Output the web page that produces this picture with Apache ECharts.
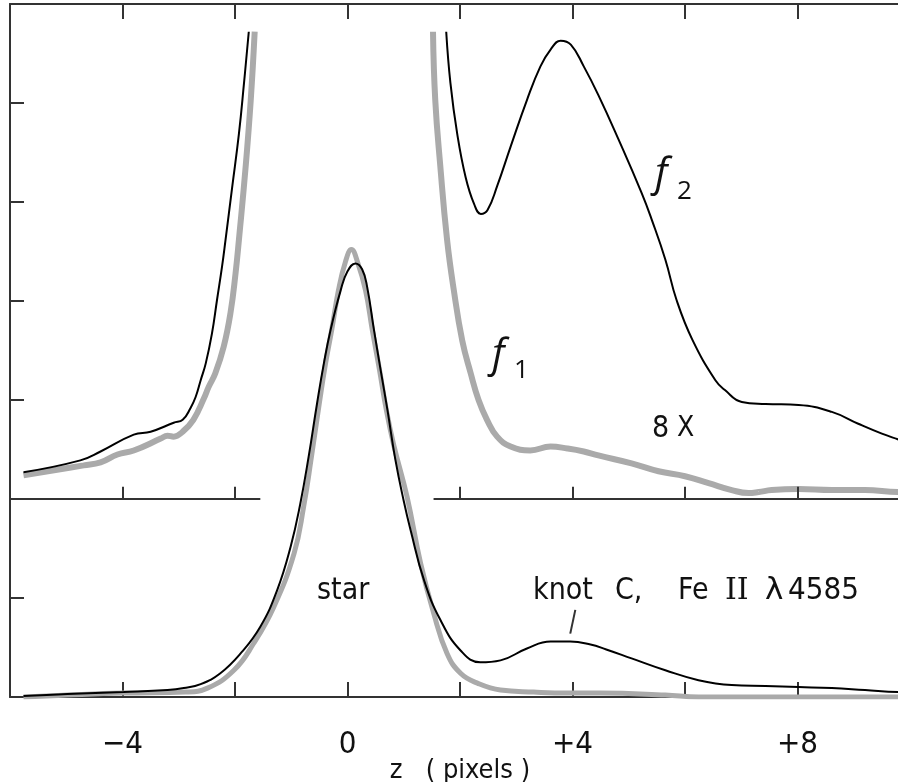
<!DOCTYPE html>
<html>
<head>
<meta charset="utf-8">
<title>star / knot C profiles</title>
<script src="https://cdn.jsdelivr.net/npm/echarts@6.0.0/dist/echarts.min.js"></script>
<style>
  html, body { margin: 0; padding: 0; background: #fff; }
  #main { width: 898px; height: 782px; }
</style>
</head>
<body>
<div id="main"></div>
<script>
// x axis: z in pixels, y axis: arbitrary units (upper panel = 8x, offset by 2)
var xTickLabels = [-4, 0, 4, 8];

// lower panel, black: star + knot C (observed)
var starKnot = [[-5.76, 0.01], [-4.98, 0.03], [-3.98, 0.05], [-3.2, 0.07], [-2.91, 0.09], [-2.61, 0.13],
    [-2.26, 0.24], [-1.90, 0.44], [-1.55, 0.71], [-1.25, 1.08], [-1.01, 1.52], [-0.84, 1.95],
    [-0.69, 2.43], [-0.54, 2.97], [-0.42, 3.37], [-0.30, 3.71], [-0.12, 4.11], [0.0, 4.30],
    [0.14, 4.38], [0.26, 4.32], [0.35, 4.14], [0.47, 3.71], [0.59, 3.30], [0.71, 2.90],
    [0.85, 2.40], [1.0, 1.98], [1.12, 1.69], [1.36, 1.18], [1.65, 0.78], [2.01, 0.47],
    [2.36, 0.35], [2.72, 0.37], [3.19, 0.49], [3.61, 0.56], [3.96, 0.56], [4.32, 0.53],
    [4.6, 0.48], [5.05, 0.39], [5.65, 0.27], [6.24, 0.17], [6.83, 0.12], [7.43, 0.11],
    [8.02, 0.10], [8.61, 0.09], [9.20, 0.07], [9.80, 0.05], [10.0, 0.05]];

// lower panel, gray: star alone
var starOnly = [[-5.76, 0.0], [-4.98, 0.02], [-3.98, 0.04], [-2.88, 0.05], [-2.49, 0.09], [-2.02, 0.27],
    [-1.67, 0.54], [-1.31, 0.91], [-0.95, 1.45], [-0.78, 1.92], [-0.64, 2.43], [-0.50, 2.97],
    [-0.39, 3.37], [-0.28, 3.71], [-0.16, 4.11], [-0.04, 4.39], [0.07, 4.52], [0.18, 4.39],
    [0.32, 4.11], [0.44, 3.71], [0.57, 3.30], [0.69, 2.90], [0.82, 2.55], [1.06, 2.02],
    [1.30, 1.35], [1.53, 0.85], [1.77, 0.44], [2.01, 0.24], [2.31, 0.14], [2.72, 0.07],
    [3.31, 0.05], [3.91, 0.04], [4.50, 0.04], [5.65, 0.02], [6.24, 0.0], [10.0, 0.0]];

// upper panel, black f2 (clipped near the top)
var f2Left = [[-5.76, 2.27], [-4.75, 2.39], [-4.39, 2.48], [-3.80, 2.65], [-3.50, 2.68], [-3.09, 2.77],
    [-2.93, 2.80], [-2.79, 2.92], [-2.70, 3.03], [-2.61, 3.20], [-2.52, 3.37], [-2.41, 3.67],
    [-2.32, 4.01], [-2.23, 4.35], [-2.17, 4.61], [-2.05, 5.15], [-1.93, 5.69], [-1.84, 6.20],
    [-1.755, 6.72]];
var f2Right = [[1.755, 6.72], [1.83, 6.20], [1.95, 5.69], [2.10, 5.25], [2.25, 4.98], [2.37, 4.88],
    [2.49, 4.92], [2.66, 5.16], [2.90, 5.56], [3.19, 6.03], [3.43, 6.37], [3.61, 6.54],
    [3.79, 6.63], [3.97, 6.59], [4.20, 6.37], [4.46, 6.08], [4.82, 5.63], [5.23, 5.09],
    [5.41, 4.82], [5.65, 4.42], [5.85, 4.01], [6.13, 3.61], [6.54, 3.20], [6.71, 3.10],
    [7.01, 2.98], [7.43, 2.96], [8.02, 2.95], [8.61, 2.88], [9.08, 2.76], [9.50, 2.66],
    [9.80, 2.60], [10.0, 2.56]];

// upper panel, gray f1
var f1Left = [[-5.76, 2.24], [-4.69, 2.34], [-4.39, 2.37], [-4.09, 2.45], [-3.80, 2.49], [-3.32, 2.61],
    [-3.20, 2.64], [-3.09, 2.63], [-2.93, 2.68], [-2.74, 2.80], [-2.55, 3.02], [-2.47, 3.13],
    [-2.35, 3.27], [-2.20, 3.54], [-2.08, 3.88], [-1.99, 4.28], [-1.93, 4.62], [-1.81, 5.36],
    [-1.72, 6.03], [-1.65, 6.72]];
var f1Right = [[1.52, 6.72], [1.56, 6.03], [1.65, 5.36], [1.77, 4.62], [1.89, 4.11], [2.04, 3.60],
    [2.19, 3.27], [2.33, 3.00], [2.48, 2.80], [2.66, 2.63], [2.90, 2.53], [3.25, 2.49],
    [3.61, 2.53], [3.91, 2.51], [4.20, 2.48], [4.46, 2.44], [5.05, 2.36], [5.53, 2.28],
    [6.00, 2.23], [6.42, 2.16], [6.83, 2.09], [7.13, 2.06], [7.31, 2.07], [7.54, 2.09],
    [8.02, 2.10], [8.61, 2.09], [9.20, 2.09], [9.80, 2.07], [10.0, 2.07]];

// broken baseline of the upper panel (y = 2) and its ticks
var midLineLeft = [-6, -1.55];
var midLineRight = [1.53, 10];
var midTicks = [-4, -2, 2, 4, 6, 8];
var midLevel = 2;

var AXIS = '#333';
var GRAY = '#aaaaaa';
var FONT = '"DejaVu Sans Condensed", "DejaVu Sans", sans-serif';
var FFONT = '"Open Sans", "Noto Sans", sans-serif';

function curve(data, color, width) {
    return {
        type: 'line',
        data: data,
        symbol: 'none',
        smooth: 0.45,
        silent: true,
        lineStyle: {color: color, width: width}
    };
}

function label(text, x, y, font) {
    return {
        type: 'text', x: x, y: y, silent: true,
        style: {text: text, font: font, fill: '#111', textVerticalAlign: 'middle'}
    };
}

// segments for the middle baseline + knot pointer
var segs = [];
segs.push([{coord: [midLineLeft[0], midLevel]}, {coord: [midLineLeft[1], midLevel]}]);
segs.push([{coord: [midLineRight[0], midLevel]}, {coord: [midLineRight[1], midLevel]}]);
for (let i = 0; i < midTicks.length; i++) {
    segs.push([{coord: [midTicks[i], midLevel]}, {coord: [midTicks[i], midLevel + 0.125]}]);
}
// little pointer under "knot"
segs.push([{coord: [3.96, 0.64]}, {coord: [4.05, 0.88]}]);

let myChart = echarts.init(document.getElementById('main'));
let option = {
    animation: false,
    backgroundColor: '#fff',
    grid: {left: 10, top: 4, right: -12, bottom: 85, outerBoundsMode: 'none', containLabel: false},
    xAxis: [{
        type: 'value',
        min: -6, max: 10, interval: 2,
        name: 'z   ( pixels )',
        nameLocation: 'middle',
        nameGap: 60,
        nameMoveOverlap: false,
        nameTextStyle: {fontFamily: FONT, fontSize: 27, color: '#111'},
        axisLine: {show: true, onZero: false, lineStyle: {color: AXIS, width: 2}},
        axisTick: {show: true, inside: true, length: 15, lineStyle: {color: AXIS, width: 2}},
        axisLabel: {
            margin: 32,
            fontFamily: FONT, fontSize: 31, color: '#111',
            formatter: function (v) {
                if (xTickLabels.indexOf(v) < 0) return '';
                if (v === 0) return '0';
                return v < 0 ? '\u2212' + (-v) : '+' + v;
            }
        },
        splitLine: {show: false}
    }, {
        type: 'value',
        position: 'top',
        min: -6, max: 10, interval: 2,
        axisLine: {show: true, onZero: false, lineStyle: {color: AXIS, width: 2}},
        axisTick: {show: true, inside: true, length: 15, lineStyle: {color: AXIS, width: 2}},
        axisLabel: {show: false},
        splitLine: {show: false}
    }],
    yAxis: {
        type: 'value',
        min: 0, max: 7, interval: 1,
        axisLine: {show: true, onZero: false, lineStyle: {color: AXIS, width: 2}},
        axisTick: {show: true, inside: true, length: 14, lineStyle: {color: AXIS, width: 2}},
        axisLabel: {show: false},
        splitLine: {show: false}
    },
    series: [
        curve(starOnly, GRAY, 5),
        curve(f1Left, GRAY, 6),
        curve(f1Right, GRAY, 6),
        curve(starKnot, '#000', 2),
        curve(f2Left, '#000', 2),
        curve(f2Right, '#000', 2),
        {
            type: 'line',
            data: [],
            silent: true,
            markLine: {
                silent: true,
                symbol: ['none', 'none'],
                label: {show: false},
                lineStyle: {color: AXIS, width: 2, type: 'solid'},
                data: segs
            }
        }
    ],
    graphic: [
        label('star', 317, 591, '30px ' + FONT),
        label('knot', 533, 591, '30px ' + FONT),
        label('C,', 615, 591, '30px ' + FONT),
        label('Fe', 678, 591, '30px ' + FONT),
        label('II', 725, 591, '30px "DejaVu Serif", serif'),
        label('\u03bb', 765, 591, '31px "DejaVu Sans", sans-serif'),
        label('4585', 788, 591, '31px ' + FONT),
        label('8', 652, 429, '30px ' + FONT),
        label('X', 677, 429, '28px ' + FONT),
        // f1 / f2 labels, italic f with subscript
        label('f', 492, 356, 'italic 40px ' + FFONT),
        label('1', 514, 371, '26px ' + FFONT),
        label('f', 655, 175, 'italic 40px ' + FFONT),
        label('2', 677, 192, '26px ' + FFONT)
    ]
};
myChart.setOption(option);
</script>
</body>
</html>
